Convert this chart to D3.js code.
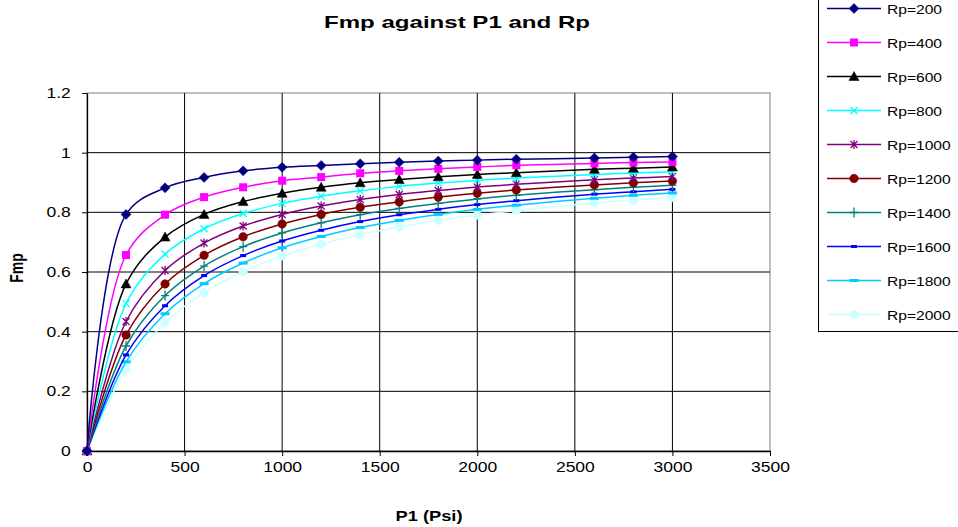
<!DOCTYPE html>
<html>
<head>
<meta charset="utf-8">
<script src="https://cdn.jsdelivr.net/npm/d3@7"></script>
<style>
  html, body { margin: 0; padding: 0; background: #fff; overflow: hidden; }
  svg { display: block; font-family: "Liberation Sans", Arial, sans-serif; }
</style>
</head>
<body>
<script>
"use strict";

// P1 (Psi) sample points
const p1 = [0, 200, 400, 600, 800, 1000, 1200, 1400, 1600, 1800, 2000, 2200, 2600, 2800, 3000];

// Fmp, one array per Rp
const fmpRp200  = [0, 0.793, 0.882, 0.917, 0.939, 0.951, 0.957, 0.963, 0.968, 0.972, 0.975, 0.978, 0.982, 0.985, 0.987];
const fmpRp400  = [0, 0.657, 0.792, 0.851, 0.884, 0.906, 0.918, 0.931, 0.939, 0.946, 0.952, 0.958, 0.964, 0.967, 0.969];
const fmpRp600  = [0, 0.560, 0.717, 0.793, 0.836, 0.864, 0.884, 0.899, 0.910, 0.919, 0.927, 0.933, 0.944, 0.948, 0.952];
const fmpRp800  = [0, 0.494, 0.660, 0.745, 0.796, 0.830, 0.854, 0.872, 0.887, 0.898, 0.907, 0.915, 0.927, 0.932, 0.936];
const fmpRp1000 = [0, 0.434, 0.605, 0.697, 0.754, 0.793, 0.821, 0.843, 0.860, 0.873, 0.885, 0.894, 0.909, 0.915, 0.920];
const fmpRp1200 = [0, 0.389, 0.560, 0.656, 0.718, 0.761, 0.793, 0.817, 0.835, 0.851, 0.864, 0.875, 0.892, 0.899, 0.905];
const fmpRp1400 = [0, 0.352, 0.521, 0.620, 0.685, 0.731, 0.765, 0.792, 0.813, 0.830, 0.845, 0.857, 0.876, 0.884, 0.891];
const fmpRp1600 = [0, 0.322, 0.487, 0.588, 0.655, 0.704, 0.740, 0.769, 0.792, 0.810, 0.826, 0.839, 0.861, 0.869, 0.877];
const fmpRp1800 = [0, 0.299, 0.460, 0.561, 0.630, 0.681, 0.719, 0.749, 0.773, 0.793, 0.810, 0.824, 0.847, 0.857, 0.865];
const fmpRp2000 = [0, 0.274, 0.430, 0.531, 0.601, 0.654, 0.694, 0.725, 0.751, 0.773, 0.791, 0.806, 0.831, 0.841, 0.850];

const seriesLabels = ["Rp=200", "Rp=400", "Rp=600", "Rp=800", "Rp=1000",
                      "Rp=1200", "Rp=1400", "Rp=1600", "Rp=1800", "Rp=2000"];
const seriesValues = [fmpRp200, fmpRp400, fmpRp600, fmpRp800, fmpRp1000,
                      fmpRp1200, fmpRp1400, fmpRp1600, fmpRp1800, fmpRp2000];

const xTicks = [0, 500, 1000, 1500, 2000, 2500, 3000, 3500];
const yTicks = [0, 0.2, 0.4, 0.6, 0.8, 1, 1.2];

// Excel 2003 style colours and markers
const colors  = ["#000080", "#ff00ff", "#000000", "#00ffff", "#800080",
                 "#800000", "#008080", "#0000ff", "#00ccff", "#ccffff"];
const markers = ["diamond", "square", "triangle", "x", "star",
                 "circle", "plus", "dash", "longdash", "circle"];

const W = 958, H = 527;
const plot = { left: 87, right: 770, top: 93, bottom: 451 };
const stretch = 1.25; // text in the picture is drawn wide

const svg = d3.select("body").append("svg")
    .attr("width", W)
    .attr("height", H);

const x = d3.scaleLinear().domain([0, 3500]).range([plot.left, plot.right]);
const y = d3.scaleLinear().domain([0, 1.2]).range([plot.bottom, plot.top]);

// plot frame (grey top/right)
svg.append("rect")
    .attr("x", plot.left).attr("y", plot.top)
    .attr("width", plot.right - plot.left)
    .attr("height", plot.bottom - plot.top)
    .attr("fill", "#fff")
    .attr("stroke", "#808080");

// gridlines
const grid = svg.append("g").attr("class", "grid");
grid.selectAll("line.h")
    .data(yTicks.slice(1, -1))
    .enter().append("line")
        .attr("class", "h")
        .attr("x1", plot.left).attr("x2", plot.right)
        .attr("y1", d => y(d)).attr("y2", d => y(d))
        .attr("stroke", "#000");
grid.selectAll("line.v")
    .data(xTicks.slice(1, -1))
    .enter().append("line")
        .attr("class", "v")
        .attr("y1", plot.top).attr("y2", plot.bottom)
        .attr("x1", d => x(d)).attr("x2", d => x(d))
        .attr("stroke", "#000");

// axes
const xAxis = svg.append("g")
    .attr("transform", `translate(0,${plot.bottom})`)
    .call(d3.axisBottom(x).tickValues(xTicks).tickFormat(d => String(d))
        .tickSize(5).tickSizeOuter(0).tickPadding(6));
const yAxis = svg.append("g")
    .attr("transform", `translate(${plot.left},0)`)
    .call(d3.axisLeft(y).tickValues(yTicks).tickFormat(d => String(+d.toFixed(1)))
        .tickSize(5).tickSizeOuter(0).tickPadding(8));

[xAxis, yAxis].forEach(a => {
    a.select(".domain").attr("stroke", "#000").attr("stroke-width", 1.3);
    a.selectAll(".tick line").attr("stroke", "#000");
    a.selectAll(".tick text")
        .attr("fill", "#000")
        .attr("font-size", 14)
        .attr("font-family", "Liberation Sans, Arial, sans-serif")
        .attr("transform", `scale(${stretch},1)`);
});

// marker drawing
function drawMarker(g, type, color) {
    if (type === "diamond") {
        g.append("path").attr("d", "M0,-5L5,0L0,5L-5,0Z")
            .attr("fill", color).attr("stroke", color).attr("stroke-width", 0.5);
    } else if (type === "square") {
        g.append("rect").attr("x", -4).attr("y", -4).attr("width", 8).attr("height", 8)
            .attr("fill", color);
    } else if (type === "triangle") {
        g.append("path").attr("d", "M0,-5L5,4L-5,4Z")
            .attr("fill", color).attr("stroke", color).attr("stroke-width", 0.5);
    } else if (type === "circle") {
        g.append("circle").attr("r", 4.3)
            .attr("fill", color).attr("stroke", color).attr("stroke-width", 0.5);
    } else if (type === "x" || type === "star") {
        let d = "M-3.5,-3.5L3.5,3.5M-3.5,3.5L3.5,-3.5";
        if (type === "star") d += "M0,-4.5L0,4.5";
        g.append("path").attr("d", d).attr("stroke", color)
            .attr("stroke-width", 1.3).attr("fill", "none");
    } else if (type === "plus") {
        g.append("path").attr("d", "M-4,0L4,0M0,-5L0,5").attr("stroke", color)
            .attr("stroke-width", 1.3).attr("fill", "none");
    } else if (type === "dash" || type === "longdash") {
        const w = type === "dash" ? 6 : 9;
        g.append("rect").attr("x", -w / 2).attr("y", -1.5)
            .attr("width", w).attr("height", 3).attr("fill", color);
    }
}

// series
const line = d3.line()
    .x(d => x(d[0]))
    .y(d => y(d[1]))
    .curve(d3.curveCatmullRom.alpha(0.5));

const seriesG = svg.append("g").attr("class", "series");
// draw from last to first so the top curves sit on top
for (let i = seriesValues.length - 1; i >= 0; i--) {
    const pts = p1.map((p, j) => [p, seriesValues[i][j]]);
    const g = seriesG.append("g");
    g.append("path")
        .attr("d", line(pts))
        .attr("fill", "none")
        .attr("stroke", colors[i])
        .attr("stroke-width", 1.5);
    pts.forEach(pt => {
        const m = g.append("g").attr("transform", `translate(${x(pt[0])},${y(pt[1])})`);
        drawMarker(m, markers[i], colors[i]);
    });
}

// title
svg.append("text")
    .attr("x", 457).attr("y", 28)
    .attr("text-anchor", "middle")
    .attr("font-size", 17)
    .attr("font-weight", "bold")
    .attr("textLength", 266)
    .attr("lengthAdjust", "spacingAndGlyphs")
    .text("Fmp against P1 and Rp");

// axis titles
svg.append("text")
    .attr("x", 429).attr("y", 521)
    .attr("text-anchor", "middle")
    .attr("font-size", 14)
    .attr("font-weight", "bold")
    .attr("textLength", 67)
    .attr("lengthAdjust", "spacingAndGlyphs")
    .text("P1 (Psi)");

svg.append("text")
    .attr("transform", "translate(23,268) rotate(-90) scale(1,1.3)")
    .attr("text-anchor", "middle")
    .attr("font-size", 14)
    .attr("font-weight", "bold")
    .text("Fmp");

// legend
const legend = svg.append("g").attr("class", "legend");
legend.append("rect")
    .attr("x", 818.5).attr("y", -5)
    .attr("width", 150).attr("height", 336.5)
    .attr("fill", "#fff")
    .attr("stroke", "#000");

seriesLabels.forEach((lab, i) => {
    const ly = 8.5 + i * 34;
    const item = legend.append("g").attr("transform", `translate(0,${ly})`);
    item.append("line")
        .attr("x1", 827).attr("x2", 881)
        .attr("stroke", colors[i]).attr("stroke-width", 1.5);
    const m = item.append("g").attr("transform", "translate(854,0)");
    drawMarker(m, markers[i], colors[i]);
    item.append("text")
        .attr("transform", `translate(887,5) scale(1.2,1)`)
        .attr("font-size", 13)
        .text(lab);
});
</script>
</body>
</html>
